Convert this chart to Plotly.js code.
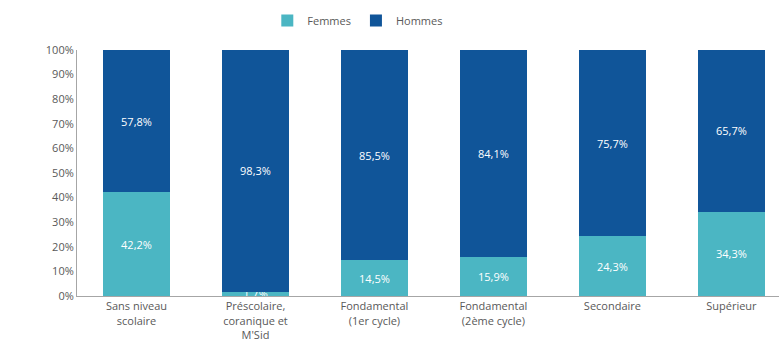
<!DOCTYPE html>
<html><head><meta charset="utf-8">
<script src="https://cdn.plot.ly/plotly-3.0.1.min.js"></script>
<style>html,body{margin:0;padding:0;background:#fff}#c{width:779px;height:343px}</style>
</head><body><div id="c"></div>
<script>
const categories = ["Sans niveau<br>scolaire", "Préscolaire,<br>coranique et<br>M'Sid", "Fondamental<br>(1er cycle)", "Fondamental<br>(2ème cycle)", "Secondaire", "Supérieur"];
const femmes = [42.2, 1.7, 14.5, 15.9, 24.3, 34.3];
const hommes = [57.8, 98.3, 85.5, 84.1, 75.7, 65.7];
const fmt = v => v.toFixed(1).replace('.', ',') + '%';
const font = {family: 'Open Sans, sans-serif', size: 11, color: '#595959'};
const traces = [
  {type: 'bar', name: 'Femmes', x: categories, y: femmes, marker: {color: '#4bb6c3'},
   text: femmes.map(fmt), textposition: 'inside', insidetextanchor: 'middle', cliponaxis: false,
   textfont: {color: '#ffffff', size: 11, family: 'Open Sans, sans-serif'}, hoverinfo: 'none'},
  {type: 'bar', name: 'Hommes', x: categories, y: hommes, marker: {color: '#105599'},
   text: hommes.map(fmt), textposition: 'inside', insidetextanchor: 'middle',
   textfont: {color: '#ffffff', size: 11, family: 'Open Sans, sans-serif'}, hoverinfo: 'none'}
];
const layout = {
  width: 779, height: 343, barmode: 'stack', bargap: 0.43,
  margin: {l: 77, r: 0, t: 50, b: 47},
  font: font, paper_bgcolor: '#fff', plot_bgcolor: '#fff',
  showlegend: true,
  uniformtext: {mode: 'show', minsize: 11},
  legend: {orientation: 'h', x: 0.4, xanchor: 'center', y: 1.12, yanchor: 'middle', itemwidth: 30,
           font: {size: 11, color: '#595959'}, traceorder: 'normal'},
  xaxis: {range: [-0.5, 5.4], showline: true, linecolor: '#a6a6a6', linewidth: 1, ticks: '', ticklabelstandoff: 0,
          tickfont: font, fixedrange: true},
  yaxis: {range: [0, 100], dtick: 10, ticksuffix: '%', showgrid: false, showline: true, linecolor: '#a6a6a6',
          ticks: '', tickfont: font, zeroline: false, fixedrange: true}
};
Plotly.newPlot('c', traces, layout, {staticPlot: true});
</script></body></html>
